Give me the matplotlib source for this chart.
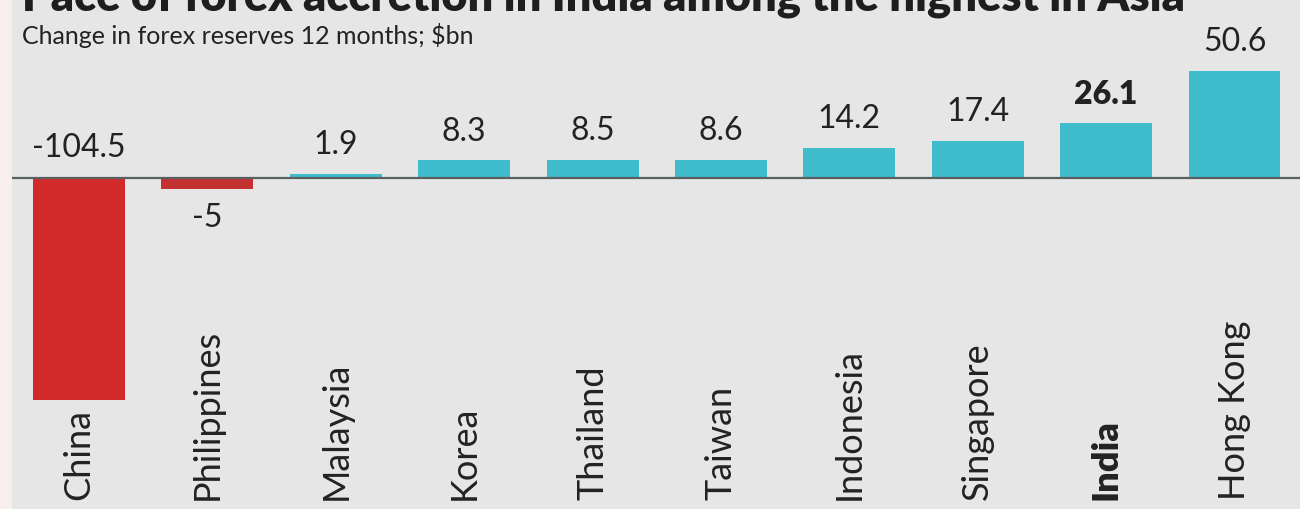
import matplotlib.pyplot as plt
from matplotlib.patches import Rectangle
from matplotlib.transforms import blended_transform_factory

plt.rcParams['font.family'] = ['Lato', 'DejaVu Sans']

countries = ['China', 'Philippines', 'Malaysia', 'Korea', 'Thailand',
             'Taiwan', 'Indonesia', 'Singapore', 'India', 'Hong Kong']
changes = [-104.5, -5, 1.9, 8.3, 8.5, 8.6, 14.2, 17.4, 26.1, 50.6]
value_labels = ['-104.5', '-5', '1.9', '8.3', '8.5', '8.6', '14.2', '17.4', '26.1', '50.6']
highlight = 'India'

TEAL = '#3fbdcc'
RED = '#d22a2a'
RED_DARK = '#c33131'
BG = '#e6e6e6'
TEXT = '#222222'

fig = plt.figure(figsize=(13, 5.09), dpi=100, facecolor=BG)
# thin pink strip on the left edge
fig.patches.append(Rectangle((0, 0), 12 / 1300, 1, transform=fig.transFigure,
                             facecolor='#f8eeee', edgecolor='none', zorder=0))

ax = fig.add_axes([0, 0, 1, 1])
ax.set_facecolor('none')
ax.axis('off')

x = list(range(len(countries)))
colors = []
for c, v in zip(countries, changes):
    if v >= 0:
        colors.append(TEAL)
    elif c == 'China':
        colors.append(RED)
    else:
        colors.append(RED_DARK)

ax.bar(x, changes, width=0.716, color=colors, zorder=2)
ax.axhline(0, xmin=13 / 1300, xmax=1, color='#5a5f60', lw=1.6, zorder=3)

ax.set_xlim(-0.615, 9.51)
ax.set_ylim(-156.1, 84.0)

for xi, c, v, lab in zip(x, countries, changes, value_labels):
    weight = 'heavy' if c == highlight else 'normal'
    if v >= 0:
        ax.annotate(lab, (xi, v), xytext=(0, 10), textcoords='offset points',
                    ha='center', va='bottom', fontsize=23, color=TEXT, fontweight=weight)
    elif c == 'China':
        ax.annotate(lab, (xi, 0), xytext=(0, 11), textcoords='offset points',
                    ha='center', va='bottom', fontsize=23, color=TEXT, fontweight=weight)
    else:
        ax.annotate(lab, (xi, v), xytext=(0, -10), textcoords='offset points',
                    ha='center', va='top', fontsize=23, color=TEXT, fontweight=weight)

trans = blended_transform_factory(ax.transData, ax.transAxes)
for xi, c in zip(x, countries):
    weight = 'heavy' if c == highlight else 'normal'
    ax.text(xi, 9 / 509, c, transform=trans, rotation=90, ha='center', va='bottom',
            fontsize=26, color=TEXT, fontweight=weight)

# title is partly cropped at the top, as in the original graphic
fig.text(22 / 1300, 1 - 10 / 509, 'Pace of forex accretion in India among the highest in Asia',
         ha='left', va='baseline', fontsize=32.5, fontweight='heavy', color='#1e1e1e')
fig.text(22 / 1300, 1 - 44 / 509, 'Change in forex reserves 12 months; $bn',
         ha='left', va='baseline', fontsize=18, color=TEXT)

fig.savefig('out.png', dpi=100, facecolor=BG)
